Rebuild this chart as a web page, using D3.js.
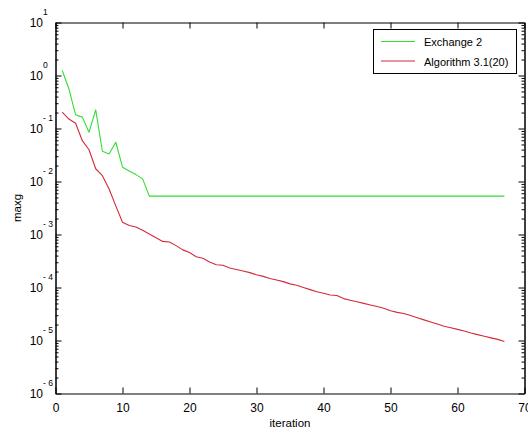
<!DOCTYPE html>
<html>
<head>
<meta charset="utf-8">
<script src="https://cdn.jsdelivr.net/npm/d3@7"></script>
<style>
  html, body { margin: 0; padding: 0; background: #fff; }
  svg { display: block; font-family: "Liberation Sans", Arial, Helvetica, sans-serif; }
</style>
</head>
<body>
<svg id="chart" width="528" height="432"></svg>
<script>
// ---- data ----
const iterations = d3.range(1, 68); // 1..67
const seriesNames = ["Exchange 2", "Algorithm 3.1(20)"];
const exchange2 = [
  1.24, 0.562, 0.181, 0.164, 0.0851, 0.225, 0.0372, 0.0331, 0.0550, 0.0186,
  0.0158, 0.0135, 0.0112, 5.3e-3, 5.3e-3, 5.3e-3, 5.3e-3, 5.3e-3, 5.3e-3, 5.3e-3,
  5.3e-3, 5.3e-3, 5.3e-3, 5.3e-3, 5.3e-3, 5.3e-3, 5.3e-3, 5.3e-3, 5.3e-3, 5.3e-3,
  5.3e-3, 5.3e-3, 5.3e-3, 5.3e-3, 5.3e-3, 5.3e-3, 5.3e-3, 5.3e-3, 5.3e-3, 5.3e-3,
  5.3e-3, 5.3e-3, 5.3e-3, 5.3e-3, 5.3e-3, 5.3e-3, 5.3e-3, 5.3e-3, 5.3e-3, 5.3e-3,
  5.3e-3, 5.3e-3, 5.3e-3, 5.3e-3, 5.3e-3, 5.3e-3, 5.3e-3, 5.3e-3, 5.3e-3, 5.3e-3,
  5.3e-3, 5.3e-3, 5.3e-3, 5.3e-3, 5.3e-3, 5.3e-3, 5.3e-3
];
const algorithm31 = [
  0.204, 0.151, 0.126, 0.0589, 0.0398, 0.0174, 0.0129, 0.00724, 0.00347, 0.00170,
  1.48e-3, 1.38e-3, 1.20e-3, 1.02e-3, 8.71e-4, 7.41e-4, 7.24e-4, 6.17e-4, 5.13e-4, 4.57e-4,
  3.80e-4, 3.55e-4, 3.02e-4, 2.69e-4, 2.63e-4, 2.34e-4, 2.19e-4, 2.04e-4, 1.91e-4, 1.74e-4,
  1.62e-4, 1.48e-4, 1.38e-4, 1.29e-4, 1.17e-4, 1.10e-4, 1.00e-4, 9.12e-5, 8.32e-5, 7.76e-5,
  7.24e-5, 7.08e-5, 6.17e-5, 5.75e-5, 5.37e-5, 5.01e-5, 4.68e-5, 4.37e-5, 4.07e-5, 3.63e-5,
  3.39e-5, 3.24e-5, 2.95e-5, 2.69e-5, 2.45e-5, 2.24e-5, 2.04e-5, 1.86e-5, 1.74e-5, 1.62e-5,
  1.51e-5, 1.38e-5, 1.29e-5, 1.20e-5, 1.12e-5, 1.05e-5, 9.55e-6
];
const xTicks = [0, 10, 20, 30, 40, 50, 60, 70];
const yTickExponents = [1, 0, -1, -2, -3, -4, -5, -6];
const xLabel = "iteration";
const yLabel = "maxg";

// ---- layout ----
const mLeft = 55.5, mRight = 524.5, mTop = 22.5, mBottom = 393.5;
const colors = ["#33dd33", "#d42a3a"];

const svg = d3.select("#chart");
const x = d3.scaleLinear().domain([0, 70]).range([mLeft, mRight]);
const y = d3.scaleLog().domain([1e-6, 10]).range([mBottom, mTop]);

const majorY = yTickExponents.map(e => Math.pow(10, e));
const minorY = [];
for (let e = -6; e < 1; e++) for (let m = 2; m <= 9; m++) minorY.push(m * Math.pow(10, e));

function styleAxis(g) {
  g.selectAll("path.domain").attr("stroke", "#000").attr("stroke-width", 1);
  g.selectAll(".tick line").attr("stroke", "#000").attr("stroke-width", 1);
}

// bottom axis
svg.append("g").attr("transform", `translate(0,${mBottom})`)
  .call(d3.axisBottom(x).tickValues(xTicks).tickSizeInner(-6).tickSizeOuter(0).tickPadding(10).tickFormat(d3.format("d")))
  .call(styleAxis)
  .call(g => g.selectAll("text").attr("font-size", 12).attr("fill", "#000").attr("font-family", "Liberation Sans, Arial, sans-serif"));
// top axis
svg.append("g").attr("transform", `translate(0,${mTop})`)
  .call(d3.axisTop(x).tickValues(xTicks).tickSizeInner(-6).tickSizeOuter(0).tickFormat(""))
  .call(styleAxis);
// left axis
svg.append("g").attr("transform", `translate(${mLeft},0)`)
  .call(d3.axisLeft(y).tickValues(majorY).tickSizeInner(-6).tickSizeOuter(0).tickFormat(""))
  .call(styleAxis);
svg.append("g").attr("transform", `translate(${mLeft},0)`)
  .call(d3.axisLeft(y).tickValues(minorY).tickSizeInner(-3).tickSizeOuter(0).tickFormat(""))
  .call(styleAxis);
// right axis
svg.append("g").attr("transform", `translate(${mRight},0)`)
  .call(d3.axisRight(y).tickValues(majorY).tickSizeInner(-6).tickSizeOuter(0).tickFormat(""))
  .call(styleAxis);
svg.append("g").attr("transform", `translate(${mRight},0)`)
  .call(d3.axisRight(y).tickValues(minorY).tickSizeInner(-3).tickSizeOuter(0).tickFormat(""))
  .call(styleAxis);

// y tick labels (10 with superscript exponent)
const yl = svg.append("g").attr("font-family", "Liberation Sans, Arial, sans-serif").attr("fill", "#000");
yTickExponents.forEach(e => {
  const yy = y(Math.pow(10, e));
  yl.append("text").attr("x", mLeft - 12.5).attr("y", yy + 4.5).attr("text-anchor", "end")
    .attr("font-size", 12).text("10");
  yl.append("text").attr("x", mLeft - 12.5).attr("y", yy - 8).attr("text-anchor", "start")
    .attr("font-size", 8.5).text(e < 0 ? "- " + (-e) : String(e));
});

// axis labels
svg.append("text").attr("x", (mLeft + mRight) / 2).attr("y", 427).attr("text-anchor", "middle")
  .attr("font-size", 11.5).text(xLabel);
svg.append("text").attr("transform", `translate(21,${(mTop + mBottom) / 2}) rotate(-90)`)
  .attr("text-anchor", "middle").attr("font-size", 11.5).text(yLabel);

// lines
const line = d3.line().x((d, i) => x(iterations[i])).y(d => y(d));
[exchange2, algorithm31].forEach((s, k) => {
  svg.append("path").datum(s).attr("d", line).attr("fill", "none")
    .attr("stroke", colors[k]).attr("stroke-width", 1.1).attr("stroke-linejoin", "round");
});

// legend
const lg = svg.append("g");
lg.append("rect").attr("x", 373.5).attr("y", 29.5).attr("width", 143).attr("height", 44)
  .attr("fill", "#fff").attr("stroke", "#000").attr("stroke-width", 1);
seriesNames.forEach((n, k) => {
  const ly = 41.5 + k * 19.5;
  lg.append("line").attr("x1", 381).attr("x2", 415).attr("y1", ly).attr("y2", ly)
    .attr("stroke", colors[k]).attr("stroke-width", 1.1);
  lg.append("text").attr("x", 424).attr("y", ly + 4.5).attr("font-size", 11).text(n);
});
</script>
</body>
</html>
